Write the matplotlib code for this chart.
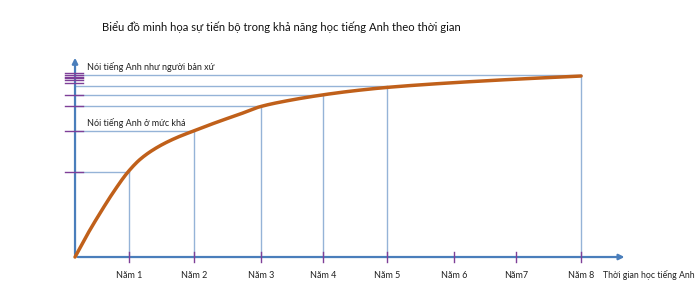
import numpy as np
import matplotlib
matplotlib.use("Agg")
import matplotlib.pyplot as plt

plt.rcParams['font.family'] = ['Lato', 'Noto Sans', 'DejaVu Sans']

# Điểm đọc trên đường cong (năm, mức độ 0-100)
curve_x = [0, 0.2, 0.4, 0.6, 0.84, 1.04, 1.30, 1.57, 1.87,
           2.29, 2.61, 2.92, 3.35, 3.92, 4.40, 4.93, 5.66, 6.72, 8.0]
curve_y = [0, 12.8, 24.5, 35.5, 47.1, 54.3, 60.6, 65.4, 69.6,
           75.1, 79.0, 83.0, 86.3, 89.6, 91.8, 93.7, 95.6, 97.8, 100.0]

# Vị trí các năm trên trục hoành
year_x = [0.85, 1.88, 2.94, 3.92, 4.93, 5.99, 6.97, 8.0]
year_labels = ["Năm 1", "Năm 2", "Năm 3", "Năm 4", "Năm 5", "Năm 6", "Năm7", "Năm 8"]

# Các năm có đường gióng và mức tương ứng
guide_x = [0.85, 1.88, 2.94, 3.92, 4.93, 8.0]
guide_y = [47.0, 69.6, 83.2, 89.6, 94.3, 100.5]

# Vạch chia trên trục tung
ytick_levels = [101.4, 100.6, 99.7, 98.9, 97.8, 96.1, 89.6, 83.2, 69.6, 47.0]

title = "Biểu đồ minh họa sự tiến bộ trong khả năng học tiếng Anh theo thời gian"
label_top = "Nói tiếng Anh như người bản xứ"
label_mid = "Nói tiếng Anh ở mức khá"
x_title = "Thời gian học tiếng Anh"

axis_col = '#4A7EBB'
guide_col = '#95B3D7'
tick_col = '#7E3F98'
curve_col = '#C0601A'


def pchip(x, y, xs):
    """ đường cong trơn đi qua các điểm (Fritsch-Carlson) """
    x = np.asarray(x, float)
    y = np.asarray(y, float)
    h = np.diff(x)
    d = np.diff(y) / h
    m = np.zeros_like(y)
    for k in range(1, len(x) - 1):
        if d[k - 1] * d[k] > 0:
            w1 = 2 * h[k] + h[k - 1]
            w2 = h[k] + 2 * h[k - 1]
            m[k] = (w1 + w2) / (w1 / d[k - 1] + w2 / d[k])
    m[0] = d[0]
    m[-1] = d[-1]
    idx = np.clip(np.searchsorted(x, xs) - 1, 0, len(x) - 2)
    t = (xs - x[idx]) / h[idx]
    h00 = 2 * t**3 - 3 * t**2 + 1
    h10 = t**3 - 2 * t**2 + t
    h01 = -2 * t**3 + 3 * t**2
    h11 = t**3 - t**2
    return h00 * y[idx] + h10 * h[idx] * m[idx] + h01 * y[idx + 1] + h11 * h[idx] * m[idx + 1]


fig = plt.figure(figsize=(7, 3.01), dpi=100)
ax = fig.add_axes([0, 0, 1, 1])
ax.set_xlim(-1.186, 9.88)
ax.set_ylim(-24.3, 142.0)
ax.axis('off')

# đường gióng
for gx, gy in zip(guide_x, guide_y):
    ax.plot([0, gx], [gy, gy], color=guide_col, lw=1, zorder=1)
    ax.plot([gx, gx], [0, gy], color=guide_col, lw=1, zorder=1)

# trục
ax.annotate('', xy=(8.73, 0), xytext=(0, 0),
            arrowprops=dict(arrowstyle='-|>', color=axis_col, lw=1.6, mutation_scale=8), zorder=2)
ax.annotate('', xy=(0, 111.6), xytext=(0, 0),
            arrowprops=dict(arrowstyle='-|>', color=axis_col, lw=1.6, mutation_scale=8), zorder=2)

# vạch chia
for yx in year_x:
    ax.plot([yx, yx], [-3, 3], color=tick_col, lw=1, zorder=3)
for lv in ytick_levels:
    ax.plot([-0.16, 0.12], [lv, lv], color=tick_col, lw=1, zorder=3)

# đường cong
xs = np.linspace(curve_x[0], curve_x[-1], 400)
ax.plot(xs, pchip(curve_x, curve_y, xs), color=curve_col, lw=2.5, solid_capstyle='round',
        solid_joinstyle='round', zorder=4)

# nhãn
for yx, lab in zip(year_x, year_labels):
    ax.text(yx, -10, lab, ha='center', va='center', fontsize=6.5, color='#222222')
ax.text(8.35, -10, x_title, ha='left', va='center', fontsize=6.3, color='#222222')
ax.text(0.19, 105, label_top, ha='left', va='center', fontsize=6.5, color='#222222')
ax.text(0.19, 74, label_mid, ha='left', va='center', fontsize=6.5, color='#222222')

fig.text(281 / 700, 1 - 27 / 301, title, ha='center', va='center', fontsize=8.1, color='#111111')

fig.savefig('out.png', dpi=100)
